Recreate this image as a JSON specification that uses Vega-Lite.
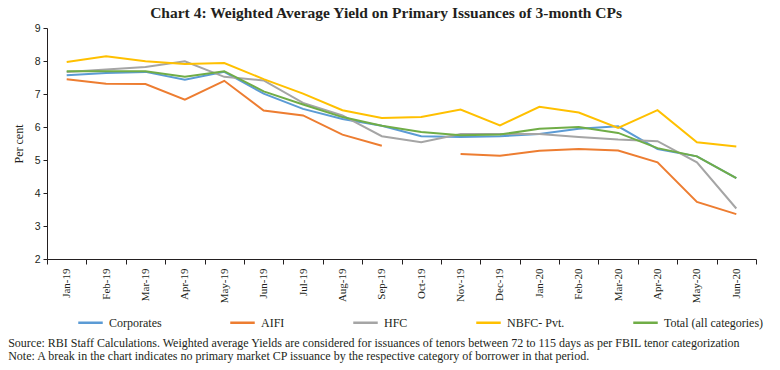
{
  "$schema": "https://vega.github.io/schema/vega-lite/v6.json",
  "background": "white",
  "padding": {"left": 8, "top": 5, "right": 15, "bottom": 2},
  "title": {
    "text": "Chart 4: Weighted Average Yield on Primary Issuances of 3-month CPs",
    "anchor": "middle",
    "font": "Liberation Serif",
    "fontSize": 15.5,
    "fontWeight": "bold",
    "color": "#231f20",
    "offset": 2
  },
  "config": {
    "view": {"stroke": null},
    "font": "Liberation Serif",
    "axis": {
      "labelFont": "Liberation Serif",
      "labelFontSize": 11,
      "labelColor": "#231f20",
      "titleFont": "Liberation Serif",
      "titleFontSize": 12,
      "titleFontWeight": "normal",
      "titleColor": "#231f20",
      "domainColor": "#231f20",
      "tickColor": "#231f20",
      "grid": false
    },
    "legend": {
      "labelFont": "Liberation Serif",
      "labelFontSize": 12,
      "labelColor": "#231f20"
    }
  },
  "vconcat": [
    {
      "width": 709,
      "height": 231,
      "title": {
        "text": "Source: RBI Staff Calculations. Weighted average Yields are considered for issuances of tenors between 72 to 115 days as per FBIL tenor categorization",
        "subtitle": "Note: A break in the chart indicates no primary market CP issuance by the respective category of borrower in that period.",
        "orient": "bottom",
        "anchor": "start",
        "font": "Liberation Serif",
        "fontSize": 12,
        "fontWeight": "normal",
        "color": "#231f20",
        "subtitleFont": "Liberation Serif",
        "subtitleFontSize": 12,
        "subtitleColor": "#231f20",
        "subtitlePadding": 1,
        "offset": 35,
        "dx": -4
      },
      "data": {
        "values": [
          {"series": "Corporates", "month": "Jan-19", "value": 7.57},
          {"series": "Corporates", "month": "Feb-19", "value": 7.64},
          {"series": "Corporates", "month": "Mar-19", "value": 7.67},
          {"series": "Corporates", "month": "Apr-19", "value": 7.43},
          {"series": "Corporates", "month": "May-19", "value": 7.67},
          {"series": "Corporates", "month": "Jun-19", "value": 7.01},
          {"series": "Corporates", "month": "Jul-19", "value": 6.55},
          {"series": "Corporates", "month": "Aug-19", "value": 6.24},
          {"series": "Corporates", "month": "Sep-19", "value": 6.04},
          {"series": "Corporates", "month": "Oct-19", "value": 5.72},
          {"series": "Corporates", "month": "Nov-19", "value": 5.70},
          {"series": "Corporates", "month": "Dec-19", "value": 5.72},
          {"series": "Corporates", "month": "Jan-20", "value": 5.79},
          {"series": "Corporates", "month": "Feb-20", "value": 5.95},
          {"series": "Corporates", "month": "Mar-20", "value": 6.02},
          {"series": "Corporates", "month": "Apr-20", "value": 5.33},
          {"series": "Corporates", "month": "May-20", "value": 5.11},
          {"series": "Corporates", "month": "Jun-20", "value": 4.45},
          {"series": "AIFI", "month": "Jan-19", "value": 7.45},
          {"series": "AIFI", "month": "Feb-19", "value": 7.31},
          {"series": "AIFI", "month": "Mar-19", "value": 7.30},
          {"series": "AIFI", "month": "Apr-19", "value": 6.83},
          {"series": "AIFI", "month": "May-19", "value": 7.40},
          {"series": "AIFI", "month": "Jun-19", "value": 6.50},
          {"series": "AIFI", "month": "Jul-19", "value": 6.35},
          {"series": "AIFI", "month": "Aug-19", "value": 5.77},
          {"series": "AIFI", "month": "Sep-19", "value": 5.43},
          {"series": "AIFI", "month": "Oct-19", "value": null},
          {"series": "AIFI", "month": "Nov-19", "value": 5.18},
          {"series": "AIFI", "month": "Dec-19", "value": 5.13},
          {"series": "AIFI", "month": "Jan-20", "value": 5.28},
          {"series": "AIFI", "month": "Feb-20", "value": 5.33},
          {"series": "AIFI", "month": "Mar-20", "value": 5.29},
          {"series": "AIFI", "month": "Apr-20", "value": 4.93},
          {"series": "AIFI", "month": "May-20", "value": 3.73},
          {"series": "AIFI", "month": "Jun-20", "value": 3.36},
          {"series": "HFC", "month": "Jan-19", "value": 7.67},
          {"series": "HFC", "month": "Feb-19", "value": 7.74},
          {"series": "HFC", "month": "Mar-19", "value": 7.82},
          {"series": "HFC", "month": "Apr-19", "value": 7.99},
          {"series": "HFC", "month": "May-19", "value": 7.52},
          {"series": "HFC", "month": "Jun-19", "value": 7.41},
          {"series": "HFC", "month": "Jul-19", "value": 6.73},
          {"series": "HFC", "month": "Aug-19", "value": 6.35},
          {"series": "HFC", "month": "Sep-19", "value": 5.72},
          {"series": "HFC", "month": "Oct-19", "value": 5.54},
          {"series": "HFC", "month": "Nov-19", "value": 5.79},
          {"series": "HFC", "month": "Dec-19", "value": 5.79},
          {"series": "HFC", "month": "Jan-20", "value": 5.79},
          {"series": "HFC", "month": "Feb-20", "value": 5.70},
          {"series": "HFC", "month": "Mar-20", "value": 5.62},
          {"series": "HFC", "month": "Apr-20", "value": 5.57},
          {"series": "HFC", "month": "May-20", "value": 4.93},
          {"series": "HFC", "month": "Jun-20", "value": 3.53},
          {"series": "NBFC- Pvt.", "month": "Jan-19", "value": 7.97},
          {"series": "NBFC- Pvt.", "month": "Feb-19", "value": 8.14},
          {"series": "NBFC- Pvt.", "month": "Mar-19", "value": 7.99},
          {"series": "NBFC- Pvt.", "month": "Apr-19", "value": 7.91},
          {"series": "NBFC- Pvt.", "month": "May-19", "value": 7.94},
          {"series": "NBFC- Pvt.", "month": "Jun-19", "value": 7.45},
          {"series": "NBFC- Pvt.", "month": "Jul-19", "value": 7.01},
          {"series": "NBFC- Pvt.", "month": "Aug-19", "value": 6.51},
          {"series": "NBFC- Pvt.", "month": "Sep-19", "value": 6.27},
          {"series": "NBFC- Pvt.", "month": "Oct-19", "value": 6.30},
          {"series": "NBFC- Pvt.", "month": "Nov-19", "value": 6.53},
          {"series": "NBFC- Pvt.", "month": "Dec-19", "value": 6.05},
          {"series": "NBFC- Pvt.", "month": "Jan-20", "value": 6.61},
          {"series": "NBFC- Pvt.", "month": "Feb-20", "value": 6.44},
          {"series": "NBFC- Pvt.", "month": "Mar-20", "value": 5.97},
          {"series": "NBFC- Pvt.", "month": "Apr-20", "value": 6.51},
          {"series": "NBFC- Pvt.", "month": "May-20", "value": 5.54},
          {"series": "NBFC- Pvt.", "month": "Jun-20", "value": 5.41},
          {"series": "Total (all categories)", "month": "Jan-19", "value": 7.69},
          {"series": "Total (all categories)", "month": "Feb-19", "value": 7.69},
          {"series": "Total (all categories)", "month": "Mar-19", "value": 7.69},
          {"series": "Total (all categories)", "month": "Apr-19", "value": 7.52},
          {"series": "Total (all categories)", "month": "May-19", "value": 7.69},
          {"series": "Total (all categories)", "month": "Jun-19", "value": 7.08},
          {"series": "Total (all categories)", "month": "Jul-19", "value": 6.68},
          {"series": "Total (all categories)", "month": "Aug-19", "value": 6.30},
          {"series": "Total (all categories)", "month": "Sep-19", "value": 6.04},
          {"series": "Total (all categories)", "month": "Oct-19", "value": 5.85},
          {"series": "Total (all categories)", "month": "Nov-19", "value": 5.75},
          {"series": "Total (all categories)", "month": "Dec-19", "value": 5.77},
          {"series": "Total (all categories)", "month": "Jan-20", "value": 5.95},
          {"series": "Total (all categories)", "month": "Feb-20", "value": 6.00},
          {"series": "Total (all categories)", "month": "Mar-20", "value": 5.82},
          {"series": "Total (all categories)", "month": "Apr-20", "value": 5.36},
          {"series": "Total (all categories)", "month": "May-20", "value": 5.11},
          {"series": "Total (all categories)", "month": "Jun-20", "value": 4.45}
        ]
      },
      "mark": {"type": "line", "strokeWidth": 2, "invalid": "break-paths-show-domains"},
      "encoding": {
        "x": {
          "field": "month",
          "type": "ordinal",
          "sort": null,
          "scale": {"type": "band", "paddingInner": 0, "paddingOuter": 0},
          "axis": {
            "title": null,
            "labelAngle": -90,
            "tickBand": "extent",
            "tickSize": 5,
            "labelPadding": 4
          }
        },
        "y": {
          "field": "value",
          "type": "quantitative",
          "scale": {"domain": [2, 9], "nice": false, "zero": false},
          "axis": {
            "title": "Per cent",
            "values": [2, 3, 4, 5, 6, 7, 8, 9],
            "labelFont": "Liberation Sans",
            "labelFontSize": 10.5,
            "tickSize": 4,
            "labelPadding": 3,
            "titlePadding": 9
          }
        },
        "color": {
          "field": "series",
          "type": "nominal",
          "sort": ["Corporates", "AIFI", "HFC", "NBFC- Pvt.", "Total (all categories)"],
          "scale": {
            "domain": ["Corporates", "AIFI", "HFC", "NBFC- Pvt.", "Total (all categories)"],
            "range": ["#5b9bd5", "#ed7d31", "#a5a5a5", "#ffc000", "#70ad47"]
          },
          "legend": {
            "title": null,
            "orient": "none",
            "legendX": 30,
            "legendY": 281,
            "direction": "horizontal",
            "symbolType": "stroke",
            "symbolSize": 600,
            "symbolStrokeWidth": 2.5,
            "columnPadding": 63,
            "labelOffset": 5,
            "padding": 0
          }
        }
      }
    }
  ]
}
